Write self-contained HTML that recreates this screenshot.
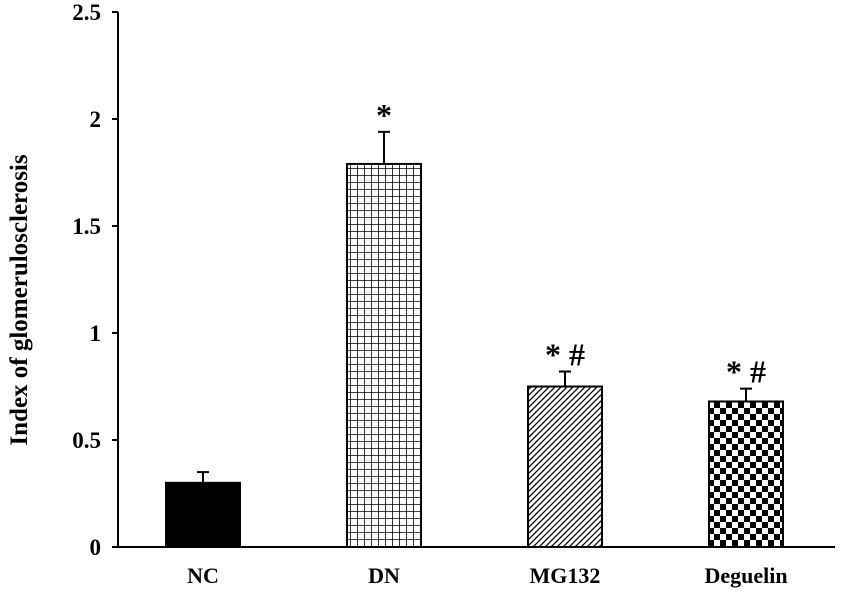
<!DOCTYPE html>
<html><head><meta charset="utf-8"><style>
html,body{margin:0;padding:0;background:#fff;width:842px;height:596px;overflow:hidden}
text{font-family:"Liberation Serif",serif;font-weight:bold}
</style></head><body>
<svg id="chart" width="842" height="596">
<defs>
<pattern id="grid" width="7" height="7" patternUnits="userSpaceOnUse"><rect width="7" height="7" fill="#fff"/><path d="M0 0H7M0 0V7" stroke="#000" stroke-width="1.6"/></pattern>
<pattern id="diag" width="6" height="6" patternUnits="userSpaceOnUse"><rect width="6" height="6" fill="#fff"/><path d="M-1 7L7 -1M-4 4L4 -4M2 10L10 2" stroke="#000" stroke-width="1.3"/></pattern>
<pattern id="check" width="12" height="12" patternUnits="userSpaceOnUse"><rect width="12" height="12" fill="#fff"/><rect width="6" height="6" fill="#000"/><rect x="6" y="6" width="6" height="6" fill="#000"/></pattern>
</defs>
<g id="g"></g>
</svg>
<script>
const categories=["NC","DN","MG132","Deguelin"];
const values=[0.30,1.79,0.75,0.68];
const errors=[0.05,0.15,0.07,0.06];
const marks=["","*","* #","* #"];
const yTicks=[0,0.5,1,1.5,2,2.5];
const yTickLabels=["0","0.5","1","1.5","2","2.5"];
const fills=["#000","url(#grid)","url(#diag)","url(#check)"];
const NS="http://www.w3.org/2000/svg",g=document.getElementById('g');
const y=v=>547-v*214, x=i=>203+i*181;
function mk(t,a,txt){const e=document.createElementNS(NS,t);for(const k in a)e.setAttribute(k,a[k]);if(txt!=null)e.textContent=txt;g.appendChild(e);return e;}
let e=mk('line',{x1:118,y1:12,x2:118,y2:547,stroke:'#000','stroke-width':2});

e=mk('line',{x1:117,y1:547,x2:835,y2:547,stroke:'#000','stroke-width':2});

yTicks.forEach((t,i)=>{
 e=mk('line',{x1:112,y1:y(t),x2:118,y2:y(t),stroke:'#000','stroke-width':2});
 
 e=mk('text',{x:101,y:y(t)+8,'text-anchor':'end','font-size':23},yTickLabels[i]);
 
});
categories.forEach((c,i)=>{
 const cx=x(i);
 e=mk('line',{x1:cx,y1:y(values[i]),x2:cx,y2:y(values[i]+errors[i]),stroke:'#000','stroke-width':2});
 
 e=mk('line',{x1:cx-6,y1:y(values[i]+errors[i]),x2:cx+6,y2:y(values[i]+errors[i]),stroke:'#000','stroke-width':2});
 
 e=mk('rect',{x:cx-37,y:y(values[i]),width:74,height:y(0)-y(values[i]),fill:fills[i],stroke:'#000','stroke-width':2});
 
 if(marks[i]){e=mk('text',{x:cx,y:y(values[i]+errors[i])-6,'text-anchor':'middle','font-size':32,'xml:space':'preserve'},marks[i].replace(' ','  '));
  }
 e=mk('text',{x:cx,y:583,'text-anchor':'middle','font-size':22},c);
 
});
e=mk('text',{x:0,y:0,'text-anchor':'middle','font-size':25,transform:'translate(27,300) rotate(-90)'},'Index of glomerulosclerosis');

</script>
</body></html>
